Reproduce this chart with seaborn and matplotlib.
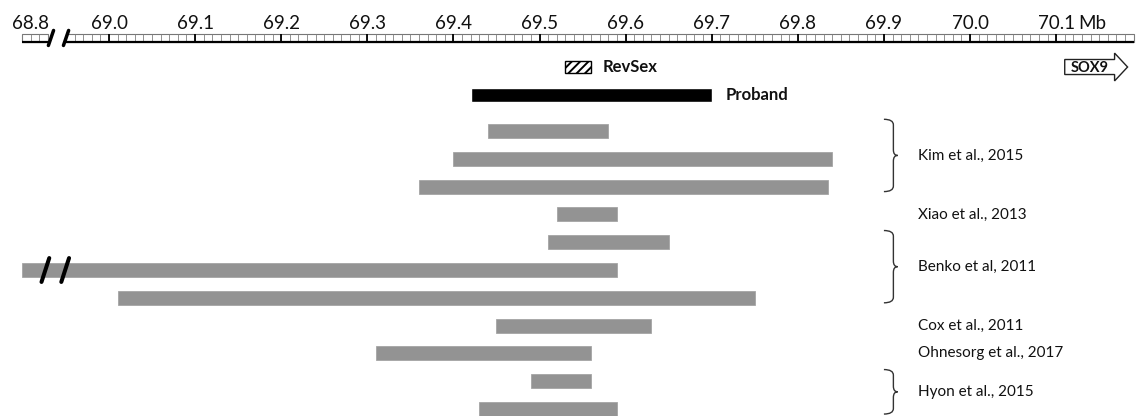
import numpy as np
import pandas as pd
import matplotlib
matplotlib.use("Agg")
import matplotlib.pyplot as plt
import seaborn as sns
from matplotlib.path import Path
from matplotlib.patches import PathPatch, Rectangle, FancyArrow

sns.set_theme(style="white")
plt.rcParams["font.family"] = ["Lato", "DejaVu Sans"]
plt.rcParams["hatch.linewidth"] = 1.4

# ---- data (Mb, chr17) ----
ruler_ticks = [68.8, 69.0, 69.1, 69.2, 69.3, 69.4, 69.5, 69.6, 69.7, 69.8, 69.9, 70.0, 70.1]
ruler_labels = ["68.8", "69.0", "69.1", "69.2", "69.3", "69.4", "69.5",
                "69.6", "69.7", "69.8", "69.9", "70.0", "70.1"]
ruler_left = [68.79, 68.82]
ruler_right = [68.95, 70.19]

revsex = [69.53, 69.56]
proband = [69.42, 69.70]
sox9 = [70.11, 70.183]

studies = ["Kim et al., 2015", "Xiao et al., 2013", "Benko et al, 2011",
           "Cox et al., 2011", "Ohnesorg et al., 2017", "Hyon et al., 2015"]
study_starts = [[69.44, 69.40, 69.36], [69.52], [69.51, 68.79, 69.01],
                [69.45], [69.31], [69.49, 69.43]]
study_ends = [[69.58, 69.84, 69.835], [69.59], [69.65, 69.59, 69.75],
              [69.63], [69.56], [69.56, 69.59]]

rows = []
for name, s_list, e_list in zip(studies, study_starts, study_ends):
    for s, e in zip(s_list, e_list):
        rows.append({"study": name, "start": s, "end": e})
df = pd.DataFrame(rows)
df["track"] = np.arange(len(df))

# ---- layout (rows of 27.8 px, track 0 = first Kim deletion) ----
BAR_H = 0.5
PROBAND_Y = -1.3
REVSEX_Y = -2.3
RULER_TOP, RULER_BOTTOM = -3.49, -3.20
TICKLABEL_Y = -3.67
W, H = 1138, 416
BREAK_PX = 57
GREY = "#939393"

fig = plt.figure(figsize=(W / 100, H / 100), dpi=100)
ax_l = fig.add_axes([0, 0, BREAK_PX / W, 1])
ax_r = fig.add_axes([BREAK_PX / W, 0, 1 - BREAK_PX / W, 1])
ax_l.set_xlim(68.7644, 68.8307)
ax_r.set_xlim(68.9396, 70.1951)
for ax in (ax_l, ax_r):
    ax.set_ylim(10.25, -4.71)
    ax.axis("off")


def draw_ruler(ax, lo, hi):
    ax.add_patch(Rectangle((lo, RULER_TOP), hi - lo, RULER_BOTTOM - RULER_TOP,
                           fill=False, edgecolor="#777777", lw=0.8))
    minor = np.arange(lo, hi + 1e-9, 0.01)
    ax.vlines(minor, RULER_TOP, RULER_BOTTOM, colors="#808080", lw=0.6)
    majors = [t for t in ruler_ticks[1:] if lo <= t <= hi]
    ax.vlines(majors, RULER_TOP, RULER_BOTTOM, colors="black", lw=1.3)
    ax.hlines(RULER_BOTTOM, lo, hi, colors="black", lw=1.6)


draw_ruler(ax_l, *ruler_left)
draw_ruler(ax_r, *ruler_right)

for t, lab in zip(ruler_ticks, ruler_labels):
    ax = ax_l if t < ruler_right[0] else ax_r
    ax.text(t, TICKLABEL_Y, lab, ha="center", va="baseline", fontsize=13.5,
            color="#111111")
ax_r.annotate("Mb", xy=(ruler_ticks[-1], TICKLABEL_Y), xytext=(16, 0),
              textcoords="offset points", ha="left", va="baseline",
              fontsize=13.5, color="#111111")

# deletions
for ax in (ax_l, ax_r):
    ax.barh(df["track"], df["end"] - df["start"], left=df["start"],
            height=BAR_H, color=GREY, edgecolor="#a5a5a5", lw=0.6)

# proband
ax_r.barh(PROBAND_Y, proband[1] - proband[0], left=proband[0], height=BAR_H,
          color="black")
ax_r.annotate("Proband", xy=(proband[1], PROBAND_Y), xytext=(10, 0),
              textcoords="offset points", ha="left", va="center",
              fontsize=12, fontweight="bold", color="#111111")

# RevSex
ax_r.barh(REVSEX_Y, revsex[1] - revsex[0], left=revsex[0], height=0.43,
          color="white", edgecolor="black", hatch="////", lw=1)
ax_r.annotate("RevSex", xy=(revsex[1], REVSEX_Y), xytext=(8, 0),
              textcoords="offset points", ha="left", va="center",
              fontsize=12, fontweight="bold", color="#111111")

# SOX9 arrow
head_len = 0.0151
ax_r.add_patch(FancyArrow(sox9[0], REVSEX_Y, sox9[1] - sox9[0], 0, width=0.54,
                          head_width=1.0, head_length=head_len,
                          length_includes_head=True, facecolor="white",
                          edgecolor="#222222", lw=1))
ax_r.text((sox9[0] + sox9[1] - head_len) / 2, REVSEX_Y + 0.02, "SOX9",
          ha="center", va="center", fontsize=10.5, fontweight="bold",
          color="#111111")


def draw_brace(ax, xm, y0, y1, hook=0.011, tip=0.005, r=0.2):
    yc = (y0 + y1) / 2
    x0 = xm - hook
    xt = xm + tip
    verts = [(x0, y0), (xm, y0), (xm, y0 + r), (xm, yc - r), (xm, yc), (xt, yc),
             (xm, yc), (xm, yc + r), (xm, y1 - r), (xm, y1), (x0, y1)]
    codes = [Path.MOVETO, Path.CURVE3, Path.CURVE3, Path.LINETO, Path.CURVE3,
             Path.CURVE3, Path.CURVE3, Path.CURVE3, Path.LINETO, Path.CURVE3,
             Path.CURVE3]
    ax.add_patch(PathPatch(Path(verts, codes), fill=False, edgecolor="#333333",
                           lw=1.0, clip_on=False))


BRACE_X = 69.911
LABEL_X = 69.94
for name, grp in df.groupby("study", sort=False):
    tr = grp["track"]
    yc = tr.mean()
    if len(grp) > 1:
        half = (tr.max() - tr.min()) / 2 + 0.3
        draw_brace(ax_r, BRACE_X, yc - 0.12 - half, yc - 0.12 + half)
        yc = yc - 0.1
    ax_r.text(LABEL_X, yc, name, ha="left", va="center", fontsize=11,
              color="#111111")

# axis-break marks
brk = ax_r.get_xlim()[0]
ruler_mid = (RULER_TOP + RULER_BOTTOM) / 2
for dx in (-0.007, 0.0105):
    ax_r.plot([brk + dx - 0.003, brk + dx + 0.003], [ruler_mid + 0.27, ruler_mid - 0.27],
              color="black", lw=2.5, solid_capstyle="round", clip_on=False)
benko_track = df.loc[df["start"] < ruler_right[0], "track"].iloc[0]
for dx in (-0.0135, 0.0095):
    ax_r.plot([brk + dx - 0.0045, brk + dx + 0.0045],
              [benko_track + 0.43, benko_track - 0.43],
              color="black", lw=2.9, solid_capstyle="round", clip_on=False)

fig.savefig("out.png", dpi=100)
